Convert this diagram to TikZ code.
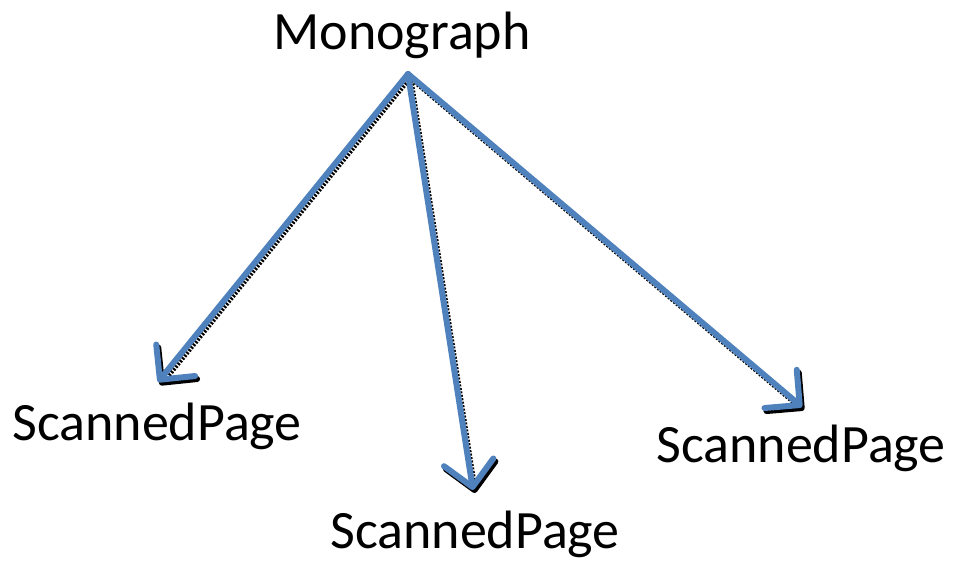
\documentclass[tikz,border=0pt]{standalone}
\usepackage{fontspec}
\setmainfont{Carlito}
\usetikzlibrary{arrows.meta}
\definecolor{lineblue}{HTML}{4F81BD}
\tikzset{
  lbl/.style={font=\fontsize{54}{60}\selectfont, anchor=base, inner sep=0pt},
  conn/.style={draw=lineblue, line width=6pt, line cap=round, line join=round,
    -{Straight Barb[length=25pt,width=50pt,line width=6pt,round]}},
  shadowconn/.style={draw=black, line width=6pt, dash pattern=on 2pt off 1.5pt,
    -{Straight Barb[length=25pt,width=50pt,line width=6pt,round]}}
}
\begin{document}
\begin{tikzpicture}[x=1pt,y=-1pt]
\useasboundingbox (0,0) rectangle (956,564);
\node[lbl] (mono) at (402,50) {Monograph};
\node[lbl] (sp1) at (157,440) {ScannedPage};
\node[lbl] (sp2) at (475,548) {ScannedPage};
\node[lbl] (sp3) at (801,462) {ScannedPage};
\coordinate (apex) at (408,74);
\coordinate (t1) at (158,382);
\coordinate (t2) at (473,490);
\coordinate (t3) at (802,407);
\foreach \t in {t1,t2,t3} {
  \draw[shadowconn] ([shift={(2,3)}]apex) -- ([shift={(2,3)}]\t);
}
\foreach \t in {t1,t2,t3} {
  \draw[conn] (apex) -- (\t);
}
\end{tikzpicture}
\end{document}
